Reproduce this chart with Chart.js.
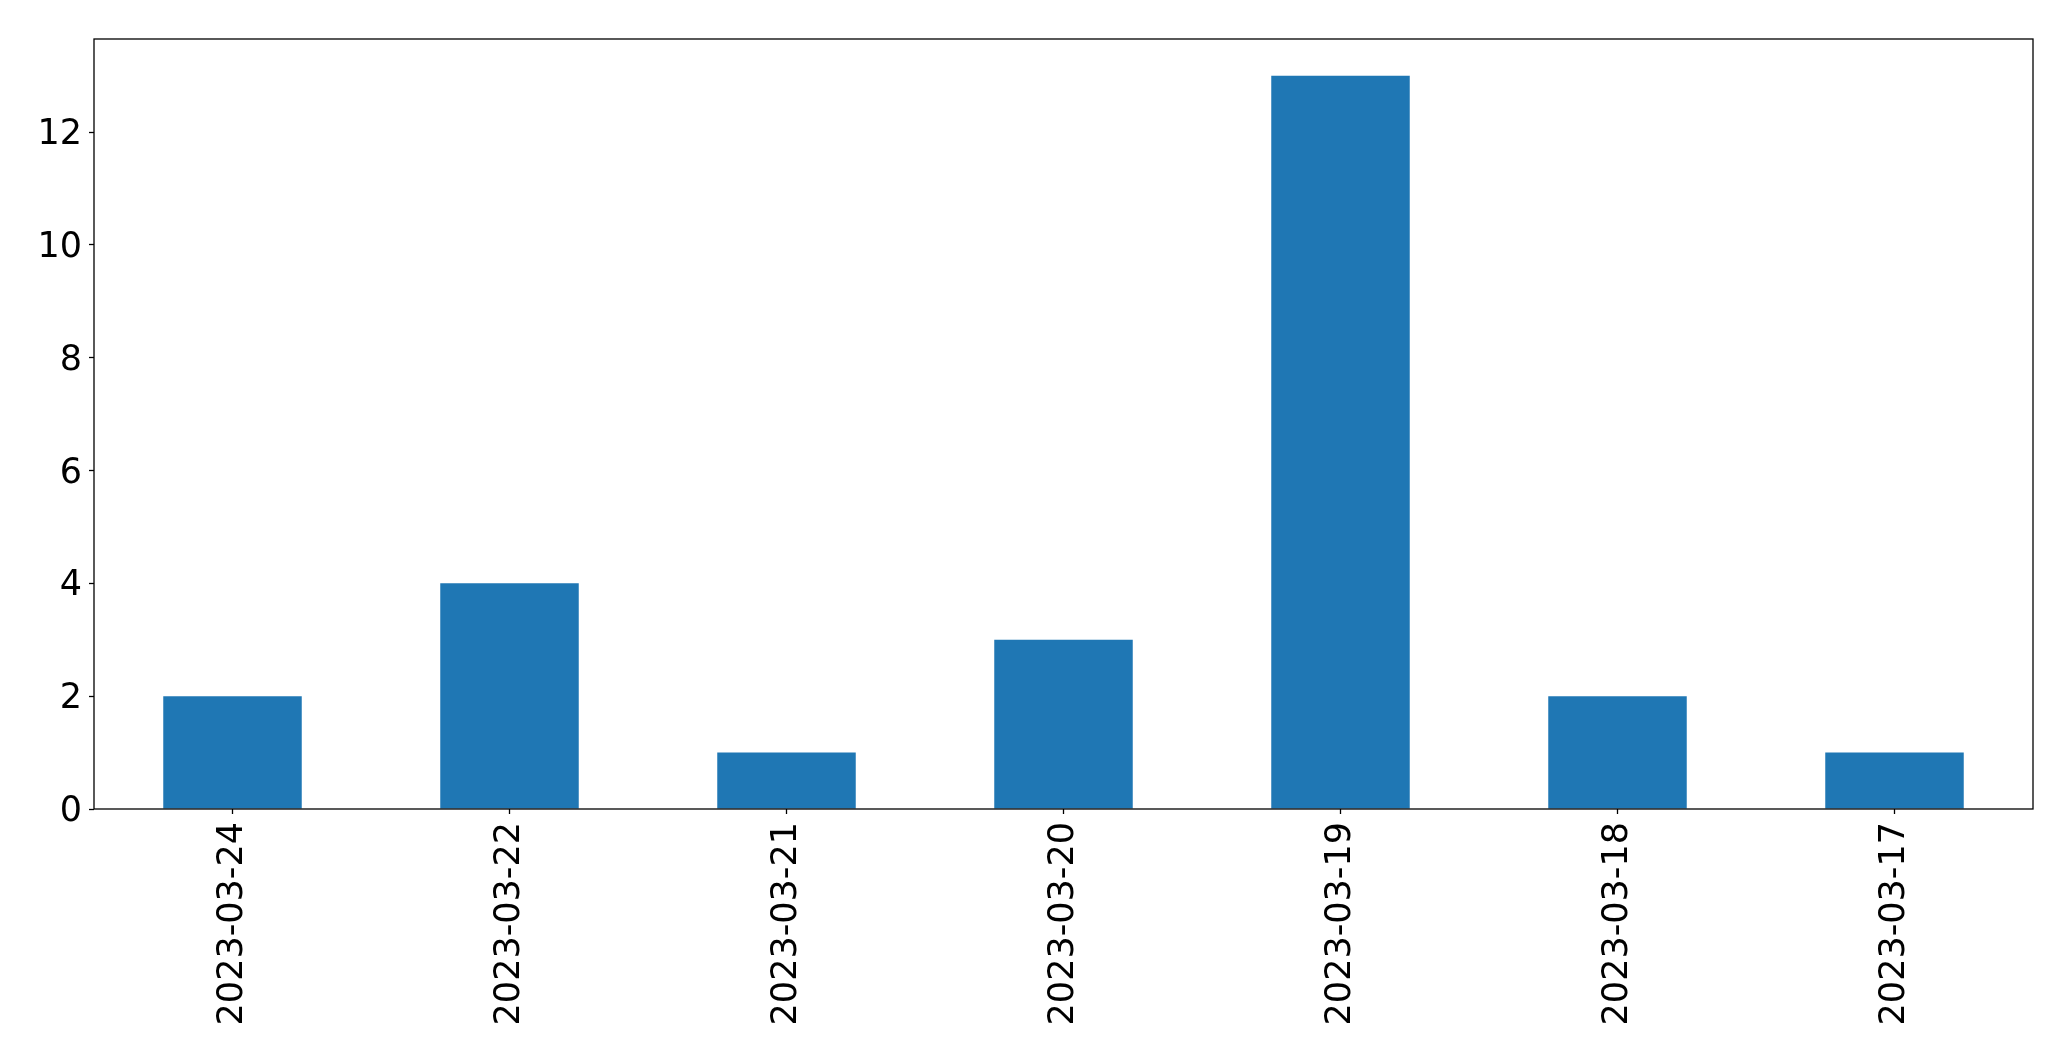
<!DOCTYPE html>
<html>
<head>
<meta charset="utf-8">
<script src="https://cdn.jsdelivr.net/npm/chart.js@4"></script>
<style>
  html, body { margin: 0; padding: 0; background: #fff; }
  canvas { display: block; }
</style>
</head>
<body>
<canvas id="chart" width="2071" height="1061"></canvas>
<script>
// Data
const dates = ['2023-03-24', '2023-03-22', '2023-03-21', '2023-03-20', '2023-03-19', '2023-03-18', '2023-03-17'];
const counts = [2, 4, 1, 3, 13, 2, 1];
const yTicks = [0, 2, 4, 6, 8, 10, 12];

// box round the plot area, like matplotlib's spines
const frame = {
  id: 'frame',
  afterDraw(chart) {
    const a = chart.chartArea;
    const c = chart.ctx;
    c.save();
    c.strokeStyle = '#000';
    c.lineWidth = 1.3;
    c.strokeRect(a.left, a.top, a.right - a.left, a.bottom - a.top);
    c.restore();
  }
};

const ctx = document.getElementById('chart').getContext('2d');
new Chart(ctx, {
  type: 'bar',
  data: {
    labels: dates,
    datasets: [{
      data: counts,
      backgroundColor: '#1f77b4',
      categoryPercentage: 1.0,
      barPercentage: 0.5
    }]
  },
  options: {
    responsive: false,
    animation: false,
    devicePixelRatio: 1,
    layout: { padding: { top: 39, right: 38, left: 0, bottom: 0 } },
    plugins: {
      legend: { display: false },
      tooltip: { enabled: false }
    },
    scales: {
      x: {
        afterFit: s => { s.height = 252; },
        grid: { offset: false, drawOnChartArea: false, drawTicks: true, tickLength: 5, tickColor: '#000', tickWidth: 1.3 },
        border: { display: false },
        ticks: {
          color: '#000',
          font: { family: 'DejaVu Sans', size: 35 },
          maxRotation: 90,
          minRotation: 90,
          padding: 8,
          autoSkip: false
        }
      },
      y: {
        min: 0,
        max: 13.65,
        afterFit: s => { s.width = 94; },
        afterBuildTicks: s => { s.ticks = yTicks.map(v => ({ value: v })); },
        grid: { drawOnChartArea: false, drawTicks: true, tickLength: 5, tickColor: '#000', tickWidth: 1.3 },
        border: { display: false },
        ticks: {
          color: '#000',
          font: { family: 'DejaVu Sans', size: 35 },
          padding: 7,
          labelOffset: 3
        }
      }
    }
  },
  plugins: [frame]
});
</script>
</body>
</html>
